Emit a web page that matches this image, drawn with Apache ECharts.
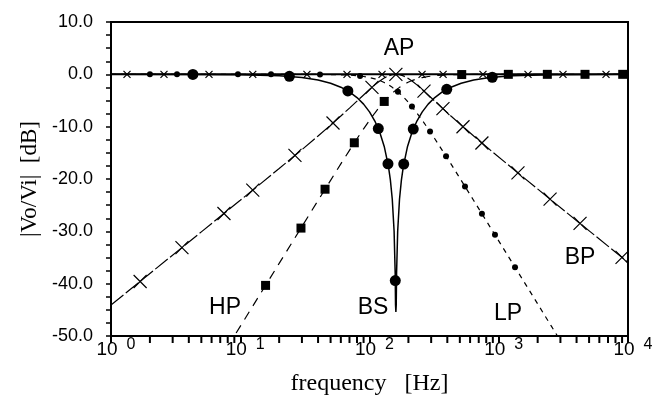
<!DOCTYPE html>
<html><head><meta charset="utf-8">
<script src="https://cdn.jsdelivr.net/npm/echarts@6/dist/echarts.min.js"></script>
<style>html,body{margin:0;padding:0;background:#fff}#c{width:665px;height:401px}</style>
</head><body><div id="c"></div>
<script>
// ---- data ----
const xTickExponents = ['0', '1', '2', '3', '4'];
const xMinorTicks = [2,3,4,5,6,7,8,9,20,30,40,50,60,70,80,90,200,300,400,500,600,700,800,900,2000,3000,4000,5000,6000,7000,8000,9000];

const freqAP = [1, 10000];
const dbAP = [0, 0];

const freqBP = [1,2,5,10,20,30,40,50,60,70,80,90,100,110,120,130,140,150,160,170.7,182.9,196.9,213.3,232.7,256,284.4,320,365.7,426.7,512,640,853.3,1280,2560,5120,10000];
const dbBP = [-44.08,-38.06,-30.10,-24.07,-18.00,-14.39,-11.78,-9.70,-7.96,-6.45,-5.12,-3.94,-2.90,-2.01,-1.27,-0.70,-0.30,-0.07,0,-0.07,-0.30,-0.70,-1.27,-2.01,-2.90,-3.94,-5.12,-6.45,-7.96,-9.70,-11.78,-14.39,-18.00,-24.07,-30.10,-35.92];

const freqHP = [8,10,20,30,40,50,60,70,80,90,100,110,120,130,140,150,160,170.7,182.9,196.9,213.3,232.7,256,284.4,320,365.7,426.7,512,640,1280,10000];
const dbHP = [-52.04,-48.16,-36.12,-29.09,-24.10,-20.25,-17.12,-14.52,-12.31,-10.41,-8.78,-7.39,-6.19,-5.18,-4.32,-3.61,-3.01,-2.49,-2.00,-1.57,-1.19,-0.88,-0.62,-0.41,-0.26,-0.16,-0.09,-0.04,-0.02,0,0];

const freqLP = [1,20,30,40,50,60,70,80,90,100,110,120,130,140,150,160,170.7,182.9,196.9,213.3,232.7,256,284.4,320,365.7,426.7,512,640,853.3,1280,2560,3200];
const dbLP = [0,0,-0.01,-0.02,-0.04,-0.09,-0.16,-0.26,-0.41,-0.62,-0.88,-1.19,-1.57,-2.00,-2.49,-3.01,-3.61,-4.32,-5.18,-6.19,-7.39,-8.78,-10.41,-12.31,-14.52,-17.12,-20.25,-24.10,-29.09,-36.12,-48.16,-52.04];

const freqBS = [1,5,10,20,30,40,50,60,70,80,90,100,110,120,130,140,145,150,155,158,159,160,161,162,165.2,170.7,176.6,182.9,196.9,213.3,232.7,256,284.4,320,365.7,426.7,512,640,853.3,1280,2560,5120,10000];
const dbBS = [0,-0.02,-0.07,-0.27,-0.61,-1.09,-1.70,-2.46,-3.37,-4.44,-5.69,-7.17,-8.92,-11.06,-13.78,-17.54,-20.16,-23.82,-29.97,-38.01,-44.06,-45.4,-44.06,-38.01,-29.97,-23.82,-20.16,-17.54,-13.78,-11.06,-8.92,-7.17,-5.69,-4.44,-3.37,-2.46,-1.70,-1.09,-0.61,-0.27,-0.07,-0.02,0];

// marker positions
const markBPf = [1.68,3.54,7.48,12.5,26.5,52.2,104.5,160,264,370,529,741,1408,2495,4256,8990];
const markBPdb = [-39.58,-33.10,-26.59,-22.12,-15.50,-9.29,-2.48,0,-3.20,-6.56,-10.01,-13.12,-18.83,-23.84,-28.49,-34.99];
const markHPf = [15.7,29.5,45.3,76.3,130,517,1186,2376,4649,9100];
const markHPdb = [-40.33,-29.38,-21.95,-13.08,-5.18,-0.04,0,0,0,0];
const markLPf = [2.0,3.24,9.6,17.3,41.4,84.5,166,213,294,391,548,741,935,1336];
const markLPdb = [0,0,0,0,-0.02,-0.33,-3.34,-6.17,-10.93,-15.64,-21.42,-26.64,-30.67,-36.87];
const markBSf = [4.3,24,68,117,139,158.3,184,218,396,891];
const markBSdb = [-0.01,-0.39,-3.17,-10.37,-17.09,-39.4,-17.15,-10.46,-2.86,-0.56];
const markAPf = [1.33,2.57,5.73,12.5,32.8,67,125,255,371,755,1684,3141,6760];
const markAPdb = [0,0,0,0,0,0,0,0,0,0,0,0,0];

const curveLabels = ['AP','HP','BS','LP','BP'];
const curveLabelPos = [[399,49],[225,308],[373,308],[508,314],[580,258]];

// ---- chart ----
const zip = (a, b) => a.map((v, i) => [v, b[i]]);
const xPath = 'path://M0,0L10,10M10,0L0,10';
const Y_MIN = -50;

const lineSeries = (data, type, width) => ({
  type: 'line', data, showSymbol: false, symbol: 'none', clip: true,
  lineStyle: { color: '#000', width, type }, silent: true
});
const markSeries = (data, symbol, size, stroke) => ({
  type: 'scatter', data, symbol, symbolSize: size, clip: false, silent: true,
  itemStyle: stroke ? { color: 'rgba(0,0,0,0)', borderColor: '#000', borderWidth: 1.2, opacity: 1 } : { color: '#000', opacity: 1 }
});

const chart = echarts.init(document.getElementById('c'), null, { renderer: 'canvas' });
chart.setOption({
  animation: false,
  backgroundColor: '#fff',
  grid: { left: 111, right: 37, top: 22, bottom: 65, show: true, borderColor: '#000', borderWidth: 2, backgroundColor: 'transparent' },
  xAxis: {
    type: 'log', logBase: 10, min: 1, max: 10000, position: 'bottom',
    name: 'frequency   [Hz]', nameLocation: 'middle', nameGap: 36,
    nameTextStyle: { fontFamily: 'Liberation Serif', fontSize: 24, color: '#000' },
    axisLine: { onZero: false, lineStyle: { color: '#000', width: 2 } },
    axisTick: { show: true, inside: false, length: 7, lineStyle: { color: '#000', width: 2 } },
    splitLine: { show: false },
    axisLabel: {
      margin: 1, color: '#000',
      formatter: (v) => '{b|10}{e|' + xTickExponents[Math.round(Math.log10(v))] + '}',
      rich: {
        b: { fontFamily: 'Liberation Sans', fontSize: 19, color: '#000', padding: [3, 0, 0, 10] },
        e: { fontFamily: 'Liberation Sans', fontSize: 16, color: '#000', verticalAlign: 'top', padding: [0, 0, 0, 9] }
      }
    }
  },
  yAxis: {
    type: 'value', min: -50, max: 10, interval: 10,
    name: '|Vo/Vi|  [dB]', nameLocation: 'middle', nameGap: 70,
    nameTextStyle: { fontFamily: 'Liberation Serif', fontSize: 23, color: '#000' },
    axisLine: { show: true, onZero: false, lineStyle: { color: '#000', width: 2 } },
    axisTick: { show: true, inside: false, length: 5, lineStyle: { color: '#000', width: 1.5 } },
    minorTick: { show: true, splitNumber: 4, length: 5, lineStyle: { color: '#000', width: 1.5 } },
    splitLine: { show: false },
    axisLabel: { margin: 18, color: '#000', fontFamily: 'Liberation Sans', fontSize: 18, formatter: (v) => v.toFixed(1) }
  },
  series: [
    lineSeries(zip(freqAP, dbAP), 'solid', 2),
    lineSeries(zip(freqBP, dbBP), [16, 3], 1.2),
    lineSeries(zip(freqHP, dbHP), [9, 7], 1.2),
    lineSeries(zip(freqLP, dbLP), [5, 5], 1.2),
    lineSeries(zip(freqBS, dbBS), 'solid', 1.5),
    markSeries(zip(markAPf, markAPdb), xPath, 7, true),
    markSeries(zip(markBPf, markBPdb), xPath, 13, true),
    markSeries(zip(markHPf, markHPdb), 'rect', 9, false),
    markSeries(zip(markLPf, markLPdb), 'circle', 6, false),
    markSeries(zip(markBSf, markBSdb), 'circle', 11, false),
    // minor log ticks along the bottom axis
    {
      type: 'scatter', silent: true, clip: false, z: 5,
      data: xMinorTicks.map(v => [v, Y_MIN]),
      symbol: 'rect', symbolSize: [2, 6], symbolOffset: [0, 4],
      itemStyle: { color: '#000', opacity: 1 }
    }
  ],
  graphic: curveLabels.map((t, i) => ({
    type: 'text', x: curveLabelPos[i][0], y: curveLabelPos[i][1], silent: true,
    style: { text: t, fill: '#000', font: '23px "Liberation Sans"', align: 'center', verticalAlign: 'middle', textAlign: 'center', textVerticalAlign: 'middle' }
  }))
});
</script></body></html>
